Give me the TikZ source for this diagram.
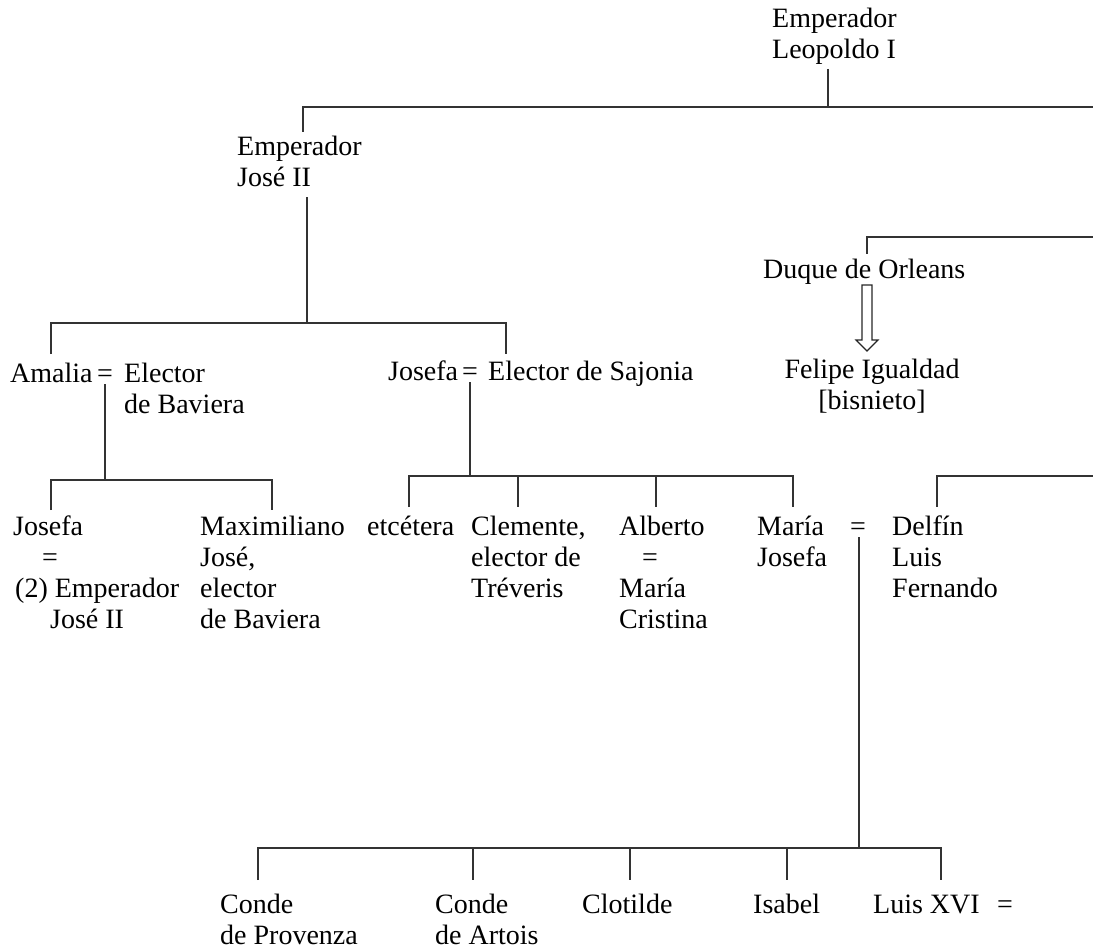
\documentclass[tikz,border=0pt]{standalone}
\usepackage{fontspec}
\setmainfont{Liberation Serif}
\begin{document}
\begin{tikzpicture}[x=1pt,y=-1pt,
  lbl/.style={anchor=north west,inner sep=0pt,align=left,font=\fontsize{28}{31}\selectfont},
  clbl/.style={lbl,anchor=north,align=center},
  ln/.style={line width=1.3pt,draw=black!80},
  hollow/.style={line width=1.1pt,draw=black!85}]
\useasboundingbox (0,0) rectangle (1093,950);
% ---------- texts (top = baseline - 21.7) ----------
\node[lbl] (leo) at (772,5.3) {\strut Emperador\\Leopoldo I};
\node[lbl] (jose) at (237,133.3) {\strut Emperador\\José II};
\node[lbl] (amalia) at (10,360.3) {\strut Amalia};
\node[clbl] (eqa) at (105,360.3) {\strut =};
\node[lbl] (ebav) at (124,360.3) {\strut Elector\\de Baviera};
\node[lbl] (josefas) at (388,358.3) {\strut Josefa};
\node[clbl] (eqs) at (470,358.3) {\strut =};
\node[lbl] (esaj) at (488,358.3) {\strut Elector de Sajonia};
\node[lbl] (duque) at (763,256.3) {\strut Duque de Orleans};
\node[clbl] (felipe) at (872,356.3) {\strut Felipe Igualdad\\{}[bisnieto]};
% row 4
\node[lbl] (josefa) at (13,513.3) {\strut Josefa\\\hspace*{29pt}=\\\hspace*{2pt}(2) Emperador\\\hspace*{37pt}José II};
\node[lbl] (maxi) at (200,513.3) {\strut Maximiliano\\José,\\elector\\de Baviera};
\node[lbl] (etc) at (367,513.3) {\strut etcétera};
\node[lbl] (clem) at (471,513.3) {\strut Clemente,\\elector de\\Tréveris};
\node[lbl] (alb) at (619,513.3) {\strut Alberto\\\hspace*{23pt}=\\María\\Cristina};
\node[lbl] (mjos) at (757,513.3) {\strut María\\Josefa};
\node[clbl] (eqm) at (858,513.3) {\strut =};
\node[lbl] (delfin) at (892,513.3) {\strut Delfín\\Luis\\Fernando};
% bottom row
\node[lbl] (prov) at (220,891.3) {\strut Conde\\de Provenza};
\node[lbl] (art) at (435,891.3) {\strut Conde\\de Artois};
\node[lbl] (clot) at (582,891.3) {\strut Clotilde};
\node[lbl] (isa) at (753,891.3) {\strut Isabel};
\node[lbl] (luis) at (873,891.3) {\strut Luis XVI};
\node[lbl] (eql) at (997,891.3) {\strut =};
% ---------- coordinates ----------
\coordinate (t0) at (828,69);   \coordinate (t1) at (828,107);
\coordinate (tl) at (303,107);  \coordinate (tr) at (1093,107);
\coordinate (tj) at (303,132);
\coordinate (j0) at (307,197);  \coordinate (j1) at (307,323);
\coordinate (jl) at (51,323);   \coordinate (jr) at (506,323);
\coordinate (jld) at (51,354);  \coordinate (jrd) at (506,354);
\coordinate (a0) at (105,384);  \coordinate (a1) at (105,480);
\coordinate (al) at (51,480);   \coordinate (ar) at (272,480);
\coordinate (ald) at (51,510);  \coordinate (ard) at (272,510);
\coordinate (s0) at (470,382);  \coordinate (s1) at (470,476);
\coordinate (s2) at (409,476);  \coordinate (s3) at (518,476);
\coordinate (s4) at (656,476);  \coordinate (s5) at (793,476);
\coordinate (o0) at (1093,237); \coordinate (o1) at (867,237);
\coordinate (o2) at (867,254);
\coordinate (d0) at (1093,476); \coordinate (d1) at (937,476);
\coordinate (d2) at (937,507);
\coordinate (m0) at (859,537);  \coordinate (m1) at (859,848);
\coordinate (b1) at (258,848);  \coordinate (b2) at (473,848);
\coordinate (b3) at (630,848);  \coordinate (b4) at (787,848);
\coordinate (b5) at (941,848);
% ---------- connectors ----------
\draw[ln] (t0) -- (t1);
\draw[ln] (tr) -- (tl) -- (tj);
\draw[ln] (j0) -- (j1);
\draw[ln] (jld) -- (jl) -- (jr) -- (jrd);
\draw[ln] (a0) -- (a1);
\draw[ln] (ald) -- (al) -- (ar) -- (ard);
\draw[ln] (s0) -- (s1);
\draw[ln] (s2) ++(0,31) -- (s2) -- (s5) -- ++(0,31);
\draw[ln] (s3) -- ++(0,31);
\draw[ln] (s4) -- ++(0,31);
\draw[ln] (o0) -- (o1) -- (o2);
\draw[ln] (d0) -- (d1) -- (d2);
\draw[ln] (m0) -- (m1);
\draw[ln] (b1) ++(0,32) -- (b1) -- (b5) -- ++(0,32);
\draw[ln] (b2) -- ++(0,32);
\draw[ln] (b3) -- ++(0,32);
\draw[ln] (b4) -- ++(0,32);
% hollow arrow from Duque to Felipe
\coordinate (ar0) at (867,285);
\draw[hollow] (ar0) ++(-5,0) -- ++(10,0) -- ++(0,55) -- ++(6,0) -- ++(-11,11) -- ++(-11,-11) -- ++(6,0) -- cycle;
\end{tikzpicture}
\end{document}
